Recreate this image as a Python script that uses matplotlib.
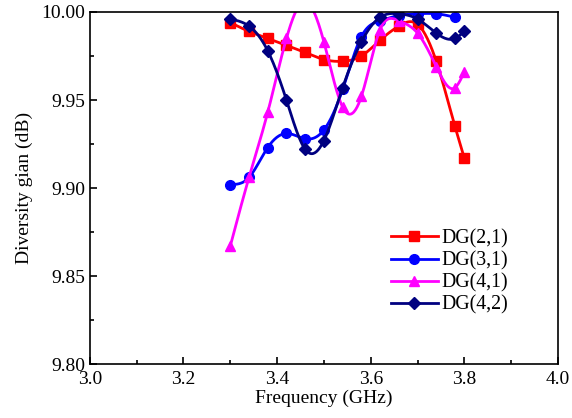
import numpy as np
import matplotlib.pyplot as plt
from matplotlib.ticker import MultipleLocator

plt.rcParams['font.family'] = ['Liberation Serif', 'DejaVu Serif']
plt.rcParams['mathtext.fontset'] = 'stix'

# frequency points (GHz)
freq = [3.30, 3.34, 3.38, 3.42, 3.46, 3.50, 3.54, 3.58, 3.62, 3.66, 3.70, 3.74, 3.78, 3.80]
freq_31 = freq[:13]

dg21 = [9.994, 9.989, 9.985, 9.981, 9.977, 9.973, 9.972, 9.975, 9.984, 9.992, 9.993, 9.972, 9.935, 9.917]
dg31 = [9.902, 9.906, 9.923, 9.931, 9.928, 9.933, 9.956, 9.986, 9.995, 9.998, 9.999, 9.999, 9.997]
dg41 = [9.867, 9.906, 9.943, 9.985, 10.006, 9.983, 9.946, 9.952, 9.990, 9.995, 9.988, 9.969, 9.957, 9.966]
dg42 = [9.996, 9.992, 9.978, 9.950, 9.922, 9.927, 9.957, 9.983, 9.997, 9.999, 9.996, 9.988, 9.985, 9.989]

labels = ['DG(2,1)', 'DG(3,1)', 'DG(4,1)', 'DG(4,2)']
colors = ['#ff0000', '#0000ff', '#ff00ff', '#000080']
markers = ['s', 'o', '^', 'D']


def spline(x, y, n=300):
    # natural cubic spline, just for drawing the connecting curve
    x = np.asarray(x, float)
    y = np.asarray(y, float)
    k = len(x)
    h = np.diff(x)
    A = np.zeros((k, k))
    r = np.zeros(k)
    A[0, 0] = A[-1, -1] = 1
    for i in range(1, k - 1):
        A[i, i - 1] = h[i - 1]
        A[i, i] = 2 * (h[i - 1] + h[i])
        A[i, i + 1] = h[i]
        r[i] = 6 * ((y[i + 1] - y[i]) / h[i] - (y[i] - y[i - 1]) / h[i - 1])
    M = np.linalg.solve(A, r)
    xs = np.linspace(x[0], x[-1], n)
    idx = np.clip(np.searchsorted(x, xs) - 1, 0, k - 2)
    x0, x1 = x[idx], x[idx + 1]
    hh = x1 - x0
    a = (x1 - xs) / hh
    b = (xs - x0) / hh
    ys = a * y[idx] + b * y[idx + 1] + ((a**3 - a) * M[idx] + (b**3 - b) * M[idx + 1]) * hh**2 / 6
    return xs, ys


fig = plt.figure(figsize=(5.72, 4.18), dpi=100)
ax = fig.add_axes([0.157, 0.129, 0.8185, 0.8423])

series = [(freq, dg21), (freq_31, dg31), (freq, dg41), (freq, dg42)]
for (fx, fy), lab, c, m in zip(series, labels, colors, markers):
    ms = 7 if m != 'D' else 6.5
    xs, ys = spline(fx, fy)
    ax.plot(xs, ys, color=c, lw=2.0)
    ax.plot(fx, fy, linestyle='none', marker=m, color=c, ms=ms)
    ax.plot([], [], color=c, lw=2.0, marker=m, ms=ms, label=lab)

ax.set_xlim(3.0, 4.0)
ax.set_ylim(9.80, 10.00)
ax.xaxis.set_major_locator(MultipleLocator(0.2))
ax.xaxis.set_minor_locator(MultipleLocator(0.1))
ax.yaxis.set_major_locator(MultipleLocator(0.05))
ax.yaxis.set_minor_locator(MultipleLocator(0.025))
ax.yaxis.set_major_formatter(plt.FormatStrFormatter('%.2f'))
ax.xaxis.set_major_formatter(plt.FormatStrFormatter('%.1f'))
ax.tick_params(which='both', direction='in', labelsize=14, width=1.2)
ax.tick_params(which='major', length=5)
ax.tick_params(which='minor', length=3)
ax.tick_params(axis='x', pad=5)
for s in ax.spines.values():
    s.set_linewidth(1.2)

ax.set_xlabel('Frequency (GHz)', fontsize=14, labelpad=1)
ax.set_ylabel('Diversity gian (dB)', fontsize=14, labelpad=6)

ax.legend(loc='lower right', bbox_to_anchor=(0.91, 0.117), frameon=False, fontsize=14.3,
          handlelength=2.4, handletextpad=0.15, labelspacing=0.15, borderaxespad=0)

fig.savefig('out.png', dpi=100)
